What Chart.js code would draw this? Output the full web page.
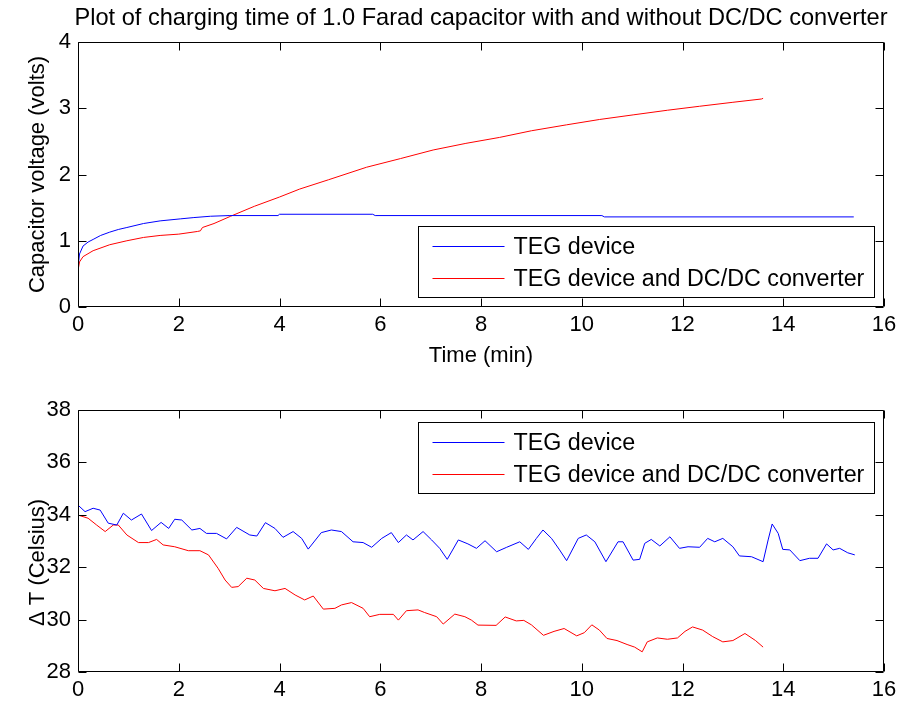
<!DOCTYPE html>
<html><head><meta charset="utf-8">
<script src="https://cdn.jsdelivr.net/npm/chart.js@4.4.0/dist/chart.umd.min.js"></script>
<style>
html,body{margin:0;padding:0;background:#fff;}
#wrap{position:relative;width:904px;height:706px;overflow:hidden;}
#c1{position:absolute;left:0;top:0;}
#c2{position:absolute;left:0;top:380px;}
</style></head><body>
<div id="wrap"><canvas id="c1" width="904" height="380"></canvas><canvas id="c2" width="904" height="326"></canvas></div>
<script>
// ---------- data ----------
const chartTitle = 'Plot of charging time of 1.0 Farad capacitor with and without DC/DC converter';
const seriesNames = ['TEG device', 'TEG device and DC/DC converter'];
const xTicks = [0, 2, 4, 6, 8, 10, 12, 14, 16];
const topYTicks = [0, 1, 2, 3, 4];
const bottomYTicks = [28, 30, 32, 34, 36, 38];

// Top: capacitor voltage (volts) vs time (min)
const vTegT = [0,0.03,0.1,0.2,0.3,0.45,0.63,0.8,0.97,1.3,1.63,2.03,2.3,2.63,3.0,3.97,4.0,5.85,5.9,10.4,10.45,15.4];
const vTegV = [0.6,0.8,0.92,0.98,1.02,1.08,1.13,1.17,1.2,1.26,1.3,1.33,1.35,1.37,1.38,1.38,1.4,1.4,1.38,1.38,1.36,1.36];
const vDcT = [0,0.03,0.1,0.3,0.63,0.97,1.3,1.63,2.0,2.37,2.43,2.47,2.7,3.03,3.5,4.0,4.4,4.97,5.73,6.4,7.05,7.7,8.37,9.0,9.7,10.35,11.02,11.7,12.34,13.0,13.57,13.6];
const vDcV = [0.55,0.68,0.76,0.85,0.94,1.0,1.05,1.08,1.1,1.14,1.15,1.2,1.26,1.37,1.52,1.66,1.78,1.92,2.11,2.24,2.37,2.47,2.56,2.66,2.75,2.83,2.9,2.97,3.03,3.09,3.14,3.15];

// Bottom: delta T (Celsius) vs time (min)
const dTegT = [0,0.14,0.3,0.44,0.6,0.77,0.9,1.06,1.26,1.46,1.65,1.8,1.92,2.06,2.26,2.42,2.55,2.75,2.95,3.15,3.41,3.55,3.72,3.91,4.07,4.27,4.44,4.57,4.83,5.03,5.23,5.46,5.66,5.83,6.03,6.22,6.36,6.52,6.65,6.85,7.02,7.18,7.33,7.55,7.74,7.91,8.08,8.31,8.51,8.77,8.94,9.1,9.23,9.4,9.56,9.7,9.93,10.09,10.26,10.48,10.72,10.82,11.02,11.15,11.25,11.38,11.55,11.75,11.94,12.11,12.34,12.5,12.64,12.8,13.0,13.13,13.37,13.6,13.7,13.78,13.9,13.99,14.13,14.33,14.52,14.69,14.86,14.99,15.12,15.28,15.42];
const dTegV = [34.37,34.12,34.25,34.18,33.68,33.61,34.06,33.8,34.03,33.4,33.71,33.48,33.83,33.8,33.42,33.48,33.29,33.29,33.08,33.52,33.23,33.19,33.7,33.48,33.14,33.36,33.1,32.69,33.32,33.42,33.36,32.97,32.94,32.76,33.1,33.32,32.94,33.23,33.04,33.36,33.04,32.72,32.3,33.04,32.89,32.72,33.01,32.59,32.76,32.97,32.68,33.1,33.42,33.1,32.66,32.25,33.1,33.23,32.97,32.21,32.97,32.97,32.27,32.3,32.91,33.06,32.81,33.16,32.72,32.78,32.76,33.1,32.97,33.1,32.78,32.43,32.4,32.21,33.04,33.65,33.29,32.68,32.66,32.25,32.34,32.34,32.89,32.66,32.72,32.55,32.47];
const dDcT = [0,0.2,0.37,0.54,0.7,0.8,0.97,1.2,1.4,1.56,1.69,1.92,2.19,2.42,2.59,2.78,2.92,3.05,3.18,3.35,3.51,3.68,3.91,4.11,4.31,4.5,4.67,4.87,5.1,5.23,5.43,5.66,5.79,5.99,6.26,6.36,6.52,6.75,6.88,7.12,7.25,7.48,7.68,7.81,7.94,8.3,8.48,8.7,8.85,9.0,9.24,9.45,9.65,9.9,10.05,10.2,10.35,10.5,10.7,10.9,11.05,11.2,11.3,11.5,11.7,11.9,12.05,12.2,12.4,12.6,12.8,13.0,13.24,13.45,13.6];
const dDcV = [33.99,33.87,33.61,33.36,33.61,33.61,33.23,32.94,32.94,33.06,32.85,32.78,32.63,32.63,32.47,31.96,31.51,31.23,31.26,31.58,31.51,31.19,31.1,31.19,30.94,30.75,30.9,30.4,30.43,30.56,30.65,30.43,30.11,30.2,30.2,29.98,30.34,30.37,30.27,30.11,29.83,30.21,30.11,29.98,29.79,29.78,30.1,29.95,29.97,29.8,29.4,29.55,29.66,29.38,29.5,29.8,29.6,29.28,29.2,29.05,28.95,28.77,29.15,29.3,29.25,29.3,29.55,29.72,29.6,29.35,29.15,29.2,29.47,29.2,28.95];

// ---------- helpers ----------
const FONT = "'Liberation Sans', Arial, Helvetica, sans-serif";
const pts = (xs, ys) => xs.map((x, i) => ({x, y: ys[i]}));

const matlabAxes = {
  id: 'matlabAxes',
  afterDatasetsDraw(chart, args, opts) {
    const {ctx, chartArea: a, scales} = chart;
    const L = Math.round(a.left) + 0.5, R = Math.round(a.right) - 0.5;
    const T = Math.round(a.top) + 0.5, B = Math.round(a.bottom) - 0.5;
    ctx.save();
    ctx.strokeStyle = '#000';
    ctx.lineWidth = 1;
    ctx.beginPath();
    ctx.rect(L, T, R - L, B - T);
    const tl = 8;
    scales.x.ticks.forEach(t => {
      const p = Math.round(scales.x.getPixelForValue(t.value)) + 0.5;
      ctx.moveTo(p, B); ctx.lineTo(p, B - tl);
      ctx.moveTo(p, T); ctx.lineTo(p, T + tl);
    });
    scales.y.ticks.forEach(t => {
      const p = Math.round(scales.y.getPixelForValue(t.value)) + 0.5;
      ctx.moveTo(L, p); ctx.lineTo(L + tl, p);
      ctx.moveTo(R, p); ctx.lineTo(R - tl, p);
    });
    ctx.stroke();

    // legend box
    const lg = opts.legend;
    const bw = 456, bh = 71;
    const bx = Math.round(a.right - 10 - bw) + 0.5;
    const by = (lg === 'bottomRight' ? Math.round(a.bottom - 10 - bh) : Math.round(a.top + 12)) + 0.5;
    ctx.fillStyle = '#fff';
    ctx.fillRect(bx, by, bw, bh);
    ctx.strokeRect(bx, by, bw, bh);
    ctx.font = '23.3px ' + FONT;
    ctx.textBaseline = 'middle';
    ctx.textAlign = 'left';
    chart.data.datasets.forEach((ds, i) => {
      const ry = Math.round(by + 19 + i * 32) + 0.5;
      ctx.strokeStyle = ds.borderColor;
      ctx.beginPath();
      ctx.moveTo(bx + 14, ry); ctx.lineTo(bx + 86, ry);
      ctx.stroke();
      ctx.fillStyle = '#000';
      ctx.fillText(ds.label, bx + 95, ry + 1);
    });

    if (opts.title) {
      ctx.fillStyle = '#000';
      ctx.font = '23.6px ' + FONT;
      ctx.textAlign = 'center';
      ctx.textBaseline = 'middle';
      ctx.fillText(opts.title, (a.left + a.right) / 2, 18);
    }
    ctx.restore();
  }
};

function makeOptions(cfg) {
  return {
    responsive: false,
    animation: false,
    devicePixelRatio: 1,
    layout: {padding: {top: cfg.padTop, right: 20, bottom: 0, left: 0}},
    plugins: {
      legend: {display: false},
      tooltip: {enabled: false},
      matlabAxes: {legend: cfg.legend, title: cfg.title}
    },
    scales: {
      x: {
        type: 'linear', min: 0, max: 16,
        afterBuildTicks: s => { s.ticks = xTicks.map(v => ({value: v})); },
        afterFit: s => { s.height = cfg.xAxisH; },
        grid: {display: false, drawTicks: false},
        border: {display: false},
        ticks: {color: '#000', font: {family: FONT, size: 22}, padding: 5, maxRotation: 0, autoSkip: false},
        title: {display: !!cfg.xTitle, text: cfg.xTitle || '', color: '#000', font: {family: FONT, size: 22}, padding: {top: 0, bottom: 11}}
      },
      y: {
        type: 'linear', min: cfg.yTicks[0], max: cfg.yTicks[cfg.yTicks.length - 1],
        afterBuildTicks: s => { s.ticks = cfg.yTicks.map(v => ({value: v})); },
        afterFit: s => { s.width = 78; },
        grid: {display: false, drawTicks: false},
        border: {display: false},
        ticks: {color: '#000', font: {family: FONT, size: 22}, padding: 7, autoSkip: false},
        title: {display: true, text: cfg.yTitle, color: '#000', font: {family: FONT, size: 22}, padding: {top: 25, bottom: 0}}
      }
    }
  };
}

function dataset(label, color, data) {
  return {label, data, borderColor: color, backgroundColor: color, borderWidth: 1, pointRadius: 0, tension: 0, fill: false};
}

new Chart(document.getElementById('c1'), {
  type: 'line',
  data: {datasets: [
    dataset(seriesNames[0], '#0000ff', pts(vTegT, vTegV)),
    dataset(seriesNames[1], '#ff0000', pts(vDcT, vDcV))
  ]},
  options: makeOptions({padTop: 42, xAxisH: 73, yTicks: topYTicks, xTitle: 'Time (min)', yTitle: 'Capacitor voltage (volts)', legend: 'bottomRight', title: chartTitle}),
  plugins: [matlabAxes]
});

new Chart(document.getElementById('c2'), {
  type: 'line',
  data: {datasets: [
    dataset(seriesNames[0], '#0000ff', pts(dTegT, dTegV)),
    dataset(seriesNames[1], '#ff0000', pts(dDcT, dDcV))
  ]},
  options: makeOptions({padTop: 30, xAxisH: 34, yTicks: bottomYTicks, xTitle: '', yTitle: 'Δ T (Celsius)\u00a0\u00a0\u00a0\u00a0\u00a0\u00a0\u00a0', legend: 'topRight', title: ''}),
  plugins: [matlabAxes]
});
</script>
</body></html>
